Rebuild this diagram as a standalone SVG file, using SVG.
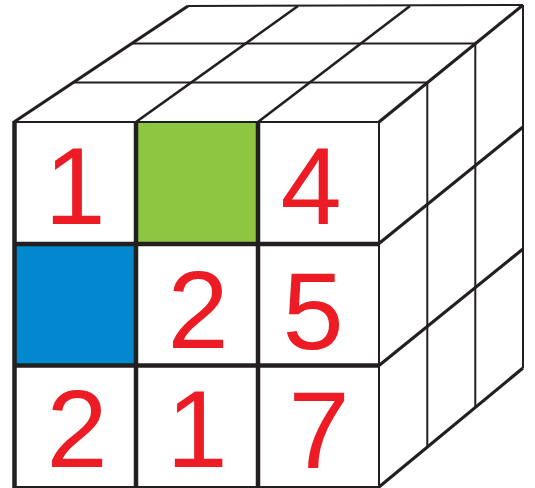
<svg xmlns="http://www.w3.org/2000/svg" width="535" height="488" viewBox="0 0 535 488">
<style>
.ln{stroke:#231f20;fill:none;stroke-linecap:butt;stroke-linejoin:miter}
.thin{stroke-width:2}
.mid{stroke-width:2.6}
.thick{stroke-width:3.2}
.heavy{stroke-width:4.5}
.dg{font-family:"Liberation Sans",Arial,sans-serif;font-size:110px;fill:#ed1c24;text-anchor:middle}
</style>
<rect width="535" height="488" fill="#ffffff"/>
<g id="fills">
  <rect x="136" y="122" width="122" height="121" fill="#8dc63f"/>
  <rect x="14" y="243" width="122" height="122" fill="#0288cf"/>
</g>
<g id="top-face">
  <line class="ln thin" x1="188" y1="6" x2="523" y2="5"/>
  <line class="ln thin" x1="73" y1="82.5" x2="427.6" y2="82.5"/>
  <line class="ln thin" x1="132" y1="43.5" x2="475.6" y2="43.5"/>
  <line class="ln mid" x1="136" y1="122" x2="298" y2="6"/>
  <line class="ln mid" x1="258" y1="122" x2="410" y2="6"/>
  <line class="ln thick" x1="14" y1="122" x2="188" y2="6"/>
  <line class="ln thick" x1="379" y1="122" x2="523" y2="5"/>
</g>
<g id="right-face">
  <line class="ln thin" x1="427.3" y1="83" x2="427.3" y2="447.3"/>
  <line class="ln thin" x1="475.3" y1="44" x2="475.3" y2="407.7"/>
  <line class="ln thin" x1="523" y1="5" x2="523" y2="368"/>
  <line class="ln thick" x1="379" y1="243.5" x2="523" y2="127"/>
  <line class="ln thick" x1="379" y1="365.5" x2="523" y2="249"/>
  <line class="ln thick" x1="379" y1="487" x2="523" y2="368"/>
</g>
<g id="front-face">
  <rect class="ln thin" x="14" y="122" width="365" height="365"/>
  <line class="ln heavy" x1="14.5" y1="121" x2="14.5" y2="488"/>
  <line class="ln heavy" x1="136" y1="122" x2="136" y2="487"/>
  <line class="ln heavy" x1="258" y1="122" x2="258" y2="487"/>
  <line class="ln heavy" x1="14" y1="244" x2="379" y2="244"/>
  <line class="ln heavy" x1="14" y1="365.5" x2="379" y2="365.5"/>
</g>
<g id="cell-r1c1"><text class="dg" x="75" y="224">1</text></g>
<g id="cell-r1c3"><text class="dg" x="311" y="224">4</text></g>
<g id="cell-r2c2"><text class="dg" x="198" y="348">2</text></g>
<g id="cell-r2c3"><text class="dg" x="313" y="349">5</text></g>
<g id="cell-r3c1"><text class="dg" x="77" y="467">2</text></g>
<g id="cell-r3c2"><text class="dg" x="197" y="467">1</text></g>
<g id="cell-r3c3"><text class="dg" x="319" y="468">7</text></g>
</svg>
